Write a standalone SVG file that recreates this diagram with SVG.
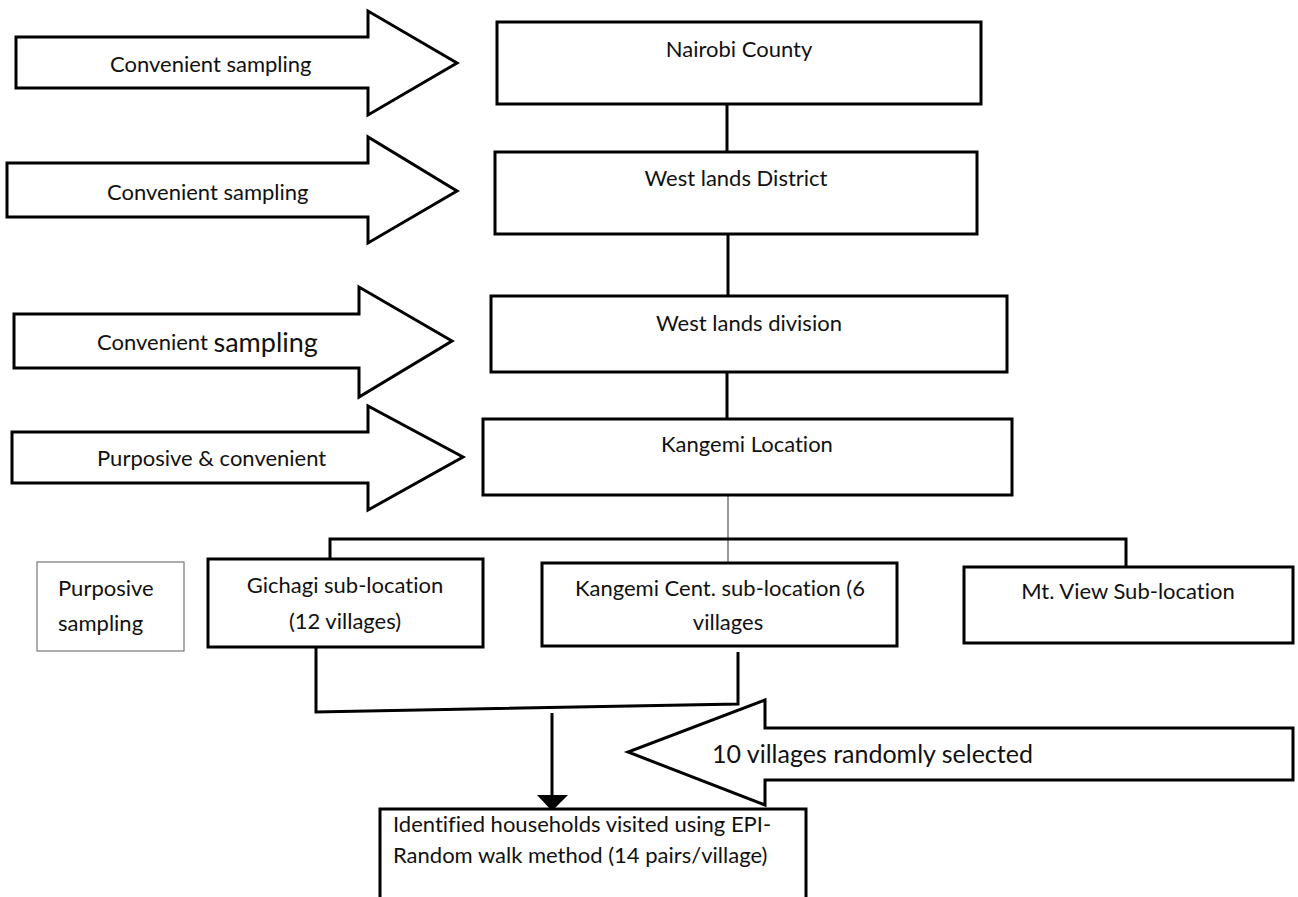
<svg xmlns="http://www.w3.org/2000/svg" width="1298" height="897" viewBox="0 0 1298 897">
<style>
.bx{fill:#fff;stroke:#000;stroke-width:3}
.ar{fill:#fff;stroke:#000;stroke-width:3;stroke-linejoin:miter}
.ln{fill:none;stroke:#000;stroke-width:3}
.t{font-family:Lato,"Liberation Sans",sans-serif;font-size:22px;fill:#111;dominant-baseline:central;font-variant-ligatures:none;font-feature-settings:"liga" 0,"dlig" 0}
.c{text-anchor:middle}
</style>
<rect width="1298" height="897" fill="#fff"/>
<g id="connectors">
<line class="ln" x1="727" y1="104" x2="727" y2="152"/>
<line class="ln" x1="728" y1="234" x2="728" y2="296"/>
<line class="ln" x1="727" y1="372" x2="727" y2="419"/>
<line x1="728" y1="494" x2="728" y2="563" stroke="#555" stroke-width="1.2"/>
<polyline class="ln" points="330,559 330,539 1126,539 1126,567"/>
<polyline class="ln" points="316,647 316,712 738,704 738,652"/>
<line class="ln" x1="552" y1="713" x2="552" y2="796"/>
<path d="M537,795 L568,795 L552,811 Z" fill="#000"/>
</g>
<g id="arrow1">
<polygon class="ar" points="16,37 368,37 368,11 457,63 368,115 368,88 16,88"/>
<text class="t" x="110" y="63">Convenient sampling</text>
</g>
<g id="arrow2">
<polygon class="ar" points="7,163 368,163 368,137 457,191 368,243 368,217 7,217"/>
<text class="t" x="107" y="191">Convenient sampling</text>
</g>
<g id="arrow3">
<polygon class="ar" points="14,314 359,314 359,287 452,341 359,397 359,368 14,368"/>
<text class="t" x="97" y="341">Convenient <tspan style="font-size:27px">sampling</tspan></text>
</g>
<g id="arrow4">
<polygon class="ar" points="12,432 368,432 368,406 463,457 368,510 368,483 12,483"/>
<text class="t" x="97" y="457">Purposive &amp; convenient</text>
</g>
<g id="nairobi">
<rect class="bx" x="497" y="22" width="484" height="82"/>
<text class="t c" x="739" y="48">Nairobi County</text>
</g>
<g id="westlands-district">
<rect class="bx" x="495" y="152" width="482" height="82"/>
<text class="t c" x="736" y="177">West lands District</text>
</g>
<g id="westlands-division">
<rect class="bx" x="491" y="296" width="516" height="76"/>
<text class="t c" x="749" y="322">West lands division</text>
</g>
<g id="kangemi-location">
<rect class="bx" x="483" y="419" width="529" height="76"/>
<text class="t c" x="747" y="443">Kangemi Location</text>
</g>
<g id="purposive">
<rect x="37" y="562" width="147" height="89" fill="#fff" stroke="#777" stroke-width="1.2"/>
<text class="t" x="58" y="587">Purposive</text>
<text class="t" x="58" y="622">sampling</text>
</g>
<g id="gichagi">
<rect class="bx" x="208" y="559" width="275" height="88"/>
<text class="t c" x="345" y="584">Gichagi sub-location</text>
<text class="t c" x="345" y="620">(12 villages)</text>
</g>
<g id="kangemi-cent">
<rect class="bx" x="542" y="563" width="355" height="83"/>
<text class="t c" x="720" y="587">Kangemi Cent. sub-location (6</text>
<text class="t c" x="728" y="621">villages</text>
</g>
<g id="mt-view">
<rect class="bx" x="964" y="567" width="329" height="76"/>
<text class="t c" x="1128" y="590">Mt. View Sub-location</text>
</g>
<g id="random-arrow">
<polygon class="ar" points="1293,728 765,728 765,700 628,752 765,805 765,780 1293,780"/>
<text class="t" x="712" y="753" style="font-size:25px">10 villages randomly selected</text>
</g>
<g id="households">
<rect class="bx" x="380" y="809" width="426" height="100"/>
<text class="t" x="393" y="823">Identified households visited using EPI-</text>
<text class="t" x="393" y="854">Random walk method (14 pairs/village)</text>
</g>
</svg>
